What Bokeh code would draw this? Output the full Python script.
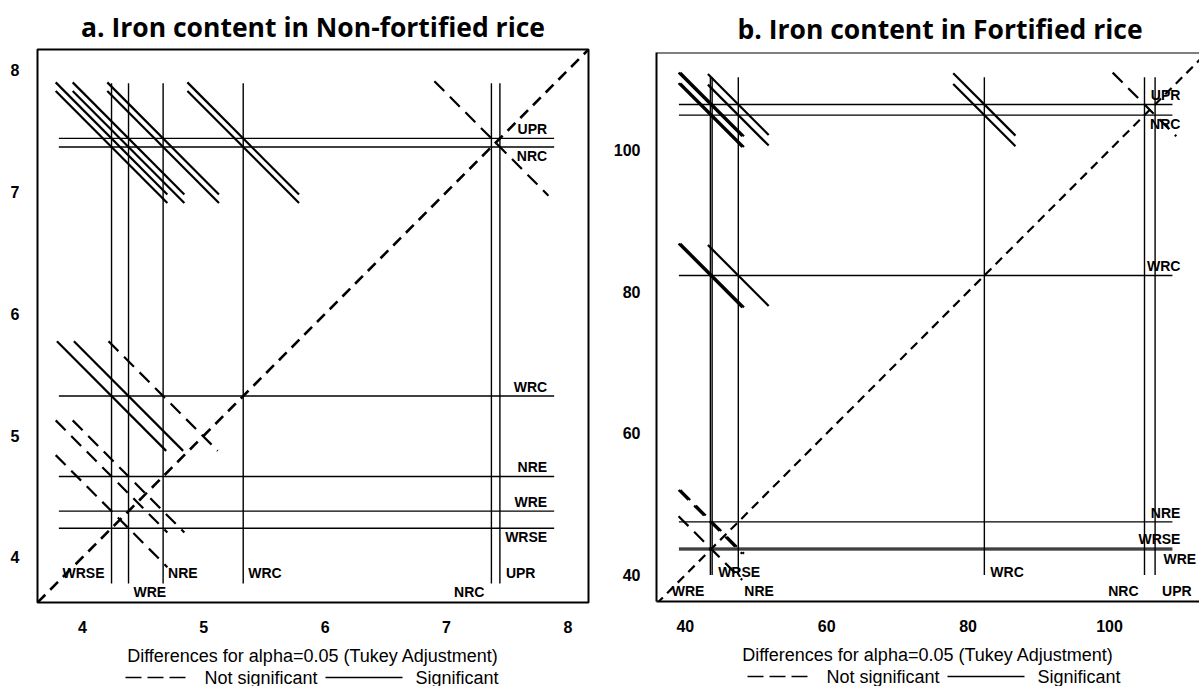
from bokeh.plotting import figure
from bokeh.layouts import row, column
from bokeh.models import FixedTicker, Span, Range1d
from bokeh.core.properties import value
from bokeh.embed import file_html
from bokeh.resources import INLINE

# ---------------- data ----------------
groups = ["WRSE", "WRE", "NRE", "WRC", "NRC", "UPR"]

# LS-means
means_a = [4.24, 4.38, 4.665, 5.325, 7.37, 7.44]
means_b = [43.8, 43.55, 47.5, 82.3, 104.95, 106.45]

pairs = [(0, 1), (0, 2), (0, 3), (0, 4), (0, 5),
         (1, 2), (1, 3), (1, 4), (1, 5),
         (2, 3), (2, 4), (2, 5),
         (3, 4), (3, 5),
         (4, 5)]

# half-length of each difference segment (x units) and significance
half_a = [0.46, 0.46, 0.45, 0.46, 0.46, 0.46, 0.45, 0.46, 0.46, 0.45, 0.46, 0.46, 0.46, 0.46, 0.47]
sig_a = [False, False, True, True, True, False, True, True, True, False, True, True, True, True, False]
half_b = [4.5, 4.5, 4.5, 4.5, 4.5, 4.5, 4.5, 4.5, 4.5, 4.3, 4.3, 4.3, 4.4, 4.4, 4.5]
sig_b = [False, False, True, True, True, False, True, True, True, True, True, True, True, True, False]

ticks_a = [4, 5, 6, 7, 8]
ticks_b = [40, 60, 80, 100]

title_a = "a. Iron content in Non-fortified rice"
title_b = "b. Iron content in Fortified rice"
xlabel = "Differences for alpha=0.05 (Tukey Adjustment)"
leg_ns = "Not significant"
leg_s = "Significant"

SANS = "Liberation Sans"


def build(title, means, half, sig, ticks, xr, yr, hr, vr, fw, fh, bl, br, bt, bb,
          hlab, vlab, title_standoff, title_align, title_offset, ylab_standoff, three_sided,
          diag_dash, diag_w):
    sx = fw / (xr[1] - xr[0])
    sy = fh / (yr[1] - yr[0])
    p = figure(frame_width=fw, frame_height=fh, x_range=Range1d(*xr), y_range=Range1d(*yr),
               output_backend="svg", toolbar_location=None,
               min_border_left=bl, min_border_right=br, min_border_top=bt, min_border_bottom=bb)
    p.background_fill_color = "white"
    p.border_fill_color = "white"
    p.grid.visible = False

    # title
    p.title.text = title
    p.title.text_font = "Open Sans"
    p.title.text_font_style = "bold"
    p.title.text_font_size = "26.5px"
    p.title.text_color = "black"
    p.title.align = title_align
    p.title.offset = title_offset
    p.title.standoff = title_standoff

    # axes
    for ax in (p.xaxis[0], p.yaxis[0]):
        ax.ticker = FixedTicker(ticks=ticks)
        ax.major_tick_line_color = None
        ax.minor_tick_line_color = None
        ax.major_tick_out = 0
        ax.major_tick_in = 0
        ax.major_label_text_font = SANS
        ax.major_label_text_font_style = "bold"
        ax.major_label_text_font_size = "16px"
        ax.major_label_text_color = "black"
    p.xaxis.major_label_standoff = 18
    p.yaxis.major_label_standoff = ylab_standoff
    p.xaxis.axis_label = xlabel
    p.xaxis.axis_label_text_font = SANS
    p.xaxis.axis_label_text_font_style = "normal"
    p.xaxis.axis_label_text_font_size = "18px"
    p.xaxis.axis_label_text_color = "black"
    p.xaxis.axis_label_standoff = 10

    if three_sided:
        p.outline_line_color = None
        p.xaxis.axis_line_color = "black"
        p.xaxis.axis_line_width = 2
        p.yaxis.axis_line_color = "black"
        p.yaxis.axis_line_width = 2
        p.add_layout(Span(location=yr[1], dimension="width", line_color="black", line_width=2))
    else:
        p.axis.axis_line_color = None
        p.outline_line_color = "black"
        p.outline_line_width = 2
        p.outline_line_alpha = 1.0

    n = len(means)
    # reference lines at each mean
    p.segment(x0=means, y0=[vr[0]] * n, x1=means, y1=[vr[1]] * n, line_color="black", line_width=1.4)
    p.segment(x0=[hr[0]] * n, y0=means, x1=[hr[1]] * n, y1=means, line_color="black", line_width=1.4)

    # diagonal
    lo = min(xr[0], yr[0])
    hi = max(xr[1], yr[1])
    p.line(x=[lo, hi], y=[lo, hi], line_color="black", line_width=diag_w, line_dash=diag_dash)

    # difference segments
    for want, dash in ((True, "solid"), (False, "14 8")):
        x0, y0, x1, y1 = [], [], [], []
        for (i, j), h, s in zip(pairs, half, sig):
            if s != want:
                continue
            a, b = sorted((means[i], means[j]))
            x0.append(a - h)
            y0.append(b + h)
            x1.append(a + h)
            y1.append(b - h)
        p.segment(x0=x0, y0=y0, x1=x1, y1=y1, line_color="black", line_width=2.2, line_dash=dash)

    # labels of horizontal lines (right end)
    for align in ("left", "right"):
        xs, ys, ts = [], [], []
        for g, m, (side, dx, al) in zip(groups, means, hlab):
            if al != align:
                continue
            xs.append(hr[1] + dx / sx)
            ys.append(m + (9 if side == "above" else -9) / sy)
            ts.append(g)
        if ts:
            p.text(x=xs, y=ys, text=ts, text_align=align, text_baseline="middle",
                   text_font=value(SANS), text_font_style="bold", text_font_size="14px",
                   text_color="black")

    # labels of vertical lines (bottom)
    for align in ("left", "right"):
        xs, ys, ts = [], [], []
        for g, m, (dx, rw, al) in zip(groups, means, vlab):
            if al != align:
                continue
            xs.append(m + dx / sx)
            ys.append(yr[0] + (29.5 if rw == "upper" else 11) / sy)
            ts.append(g)
        if ts:
            p.text(x=xs, y=ys, text=ts, text_align=align, text_baseline="middle",
                   text_font=value(SANS), text_font_size="14px", text_font_style="bold",
                   text_color="black")
    return p


def legend_strip(bl, fw, br, cx, height=20):
    # a strip under a panel holding the line-style legend; x in pixels from the figure's left
    q = figure(frame_width=fw, frame_height=height, x_range=Range1d(bl, bl + fw),
               y_range=Range1d(0, height), output_backend="svg", toolbar_location=None,
               min_border_left=bl, min_border_right=br, min_border_top=0, min_border_bottom=0)
    q.axis.visible = False
    q.grid.visible = False
    q.outline_line_color = None
    q.background_fill_color = "white"
    q.border_fill_color = "white"
    yc = height - 9
    q.segment(x0=[cx - 186], y0=[yc], x1=[cx - 126], y1=[yc], line_color="black",
              line_width=1.6, line_dash="16 6")
    q.segment(x0=[cx + 14], y0=[yc], x1=[cx + 91], y1=[yc], line_color="black", line_width=1.6)
    q.text(x=[cx - 107, cx + 104], y=[yc, yc], text=[leg_ns, leg_s], text_align="left",
           text_baseline="middle", text_font=value(SANS), text_font_size="18px", text_color="black")
    return q


hlab_a = [("below", -7, "right"), ("above", -7, "right"), ("above", -7, "right"),
          ("above", -7, "right"), ("below", -7, "right"), ("above", -7, "right")]
vlab_a = [(-7, "upper", "right"), (5, "lower", "left"), (5, "upper", "left"),
          (5, "upper", "left"), (-7, "lower", "right"), (6, "upper", "left")]

hlab_b = [("above", 8, "right"), ("below", -9, "left"), ("above", 8, "right"),
          ("above", 8, "right"), ("below", 8, "right"), ("above", 8, "right")]
vlab_b = [(6, "upper", "left"), (-6, "lower", "right"), (6, "lower", "left"),
          (6, "upper", "left"), (-6, "lower", "right"), (7, "lower", "left")]

pa = build(title_a, means_a, half_a, sig_a, ticks_a,
           xr=(3.63, 8.17), yr=(3.63, 8.17), hr=(3.806, 7.887), vr=(3.786, 7.893),
           fw=551, fh=553, bl=37, br=12, bt=49, bb=64,
           hlab=hlab_a, vlab=vlab_a, title_standoff=9, title_align="center", title_offset=0,
           ylab_standoff=18, three_sided=False, diag_dash="11 7", diag_w=2.6)

pb = build(title_b, means_b, half_b, sig_b, ticks_b,
           xr=(35.93, 112.73), yr=(36.26, 113.79), hr=(39.1, 108.9), vr=(40.0, 110.3),
           fw=543, fh=549, bl=56, br=0, bt=52, bb=65,
           hlab=hlab_b, vlab=vlab_b, title_standoff=12, title_align="left", title_offset=81,
           ylab_standoff=16, three_sided=True, diag_dash="9 6", diag_w=2.2)

la = legend_strip(37, 551, 12, 37 + 274)
lb = legend_strip(56, 543, 0, 56 + 277)

layout = row(column(pa, la), column(pb, lb))
open("out.html", "w").write(file_html(layout, INLINE))
